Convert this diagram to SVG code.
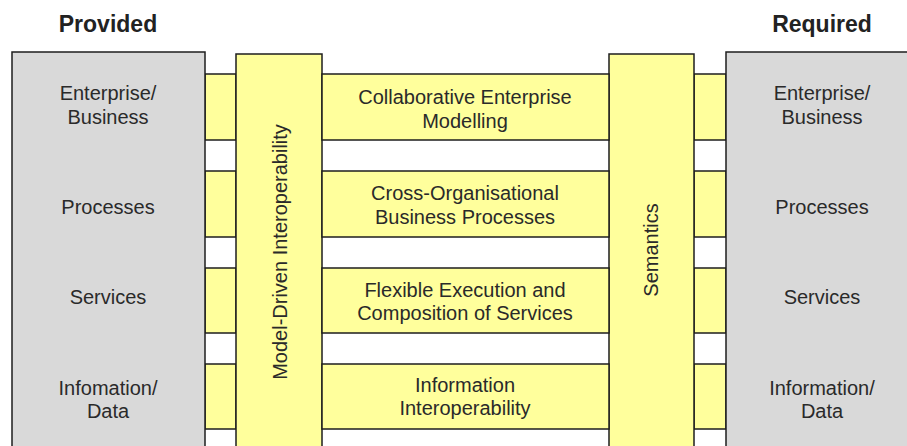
<svg xmlns="http://www.w3.org/2000/svg" width="907" height="446" viewBox="0 0 907 446">
  <style>
    .grey { fill: #d9d9d9; stroke: #1e1e1e; stroke-width: 1.5; }
    .yel { fill: #ffff9c; stroke: #1e1e1e; stroke-width: 1.5; }
    .t { font-family: "Liberation Sans", Arial, sans-serif; font-size: 20px; fill: #2a2a2a; text-anchor: middle; }
    .h { font-family: "Liberation Sans", Arial, sans-serif; font-size: 23px; font-weight: bold; fill: #222; text-anchor: middle; }
  </style>
  <rect width="907" height="446" fill="#ffffff"/>

  <g id="headers">
    <text class="h" x="108" y="32">Provided</text>
    <text class="h" x="822" y="32">Required</text>
  </g>

  <g id="connectors">
    <rect class="yel" x="205" y="74" width="31" height="66"/>
    <rect class="yel" x="205" y="171" width="31" height="66"/>
    <rect class="yel" x="205" y="268" width="31" height="65"/>
    <rect class="yel" x="205" y="364" width="31" height="65"/>
    <rect class="yel" x="694" y="74" width="32" height="66"/>
    <rect class="yel" x="694" y="171" width="32" height="66"/>
    <rect class="yel" x="694" y="268" width="32" height="65"/>
    <rect class="yel" x="694" y="364" width="32" height="65"/>
  </g>

  <g id="provided">
    <rect class="grey" x="12" y="52" width="193" height="410"/>
    <text class="t" x="108" y="100">Enterprise/</text>
    <text class="t" x="108" y="124">Business</text>
    <text class="t" x="108" y="214">Processes</text>
    <text class="t" x="108" y="304">Services</text>
    <text class="t" x="108" y="395">Infomation/</text>
    <text class="t" x="108" y="418">Data</text>
  </g>

  <g id="required">
    <rect class="grey" x="726" y="52" width="193" height="410"/>
    <text class="t" x="822" y="100">Enterprise/</text>
    <text class="t" x="822" y="124">Business</text>
    <text class="t" x="822" y="214">Processes</text>
    <text class="t" x="822" y="304">Services</text>
    <text class="t" x="822" y="395">Information/</text>
    <text class="t" x="822" y="418">Data</text>
  </g>

  <g id="mdi">
    <rect class="yel" x="236" y="54" width="86" height="410"/>
    <text class="t" transform="translate(287,252) rotate(-90)">Model-Driven Interoperability</text>
  </g>

  <g id="semantics">
    <rect class="yel" x="609" y="54" width="85" height="410"/>
    <text class="t" transform="translate(658,250) rotate(-90)">Semantics</text>
  </g>

  <g id="collab">
    <rect class="yel" x="322" y="74" width="287" height="66"/>
    <text class="t" x="465" y="104">Collaborative Enterprise</text>
    <text class="t" x="465" y="128">Modelling</text>
  </g>

  <g id="crossorg">
    <rect class="yel" x="322" y="171" width="287" height="66"/>
    <text class="t" x="465" y="200">Cross-Organisational</text>
    <text class="t" x="465" y="224">Business Processes</text>
  </g>

  <g id="flexible">
    <rect class="yel" x="322" y="268" width="287" height="65"/>
    <text class="t" x="465" y="297">Flexible Execution and</text>
    <text class="t" x="465" y="320">Composition of Services</text>
  </g>

  <g id="infointerop">
    <rect class="yel" x="322" y="364" width="287" height="65"/>
    <text class="t" x="465" y="392">Information</text>
    <text class="t" x="465" y="415">Interoperability</text>
  </g>
</svg>
